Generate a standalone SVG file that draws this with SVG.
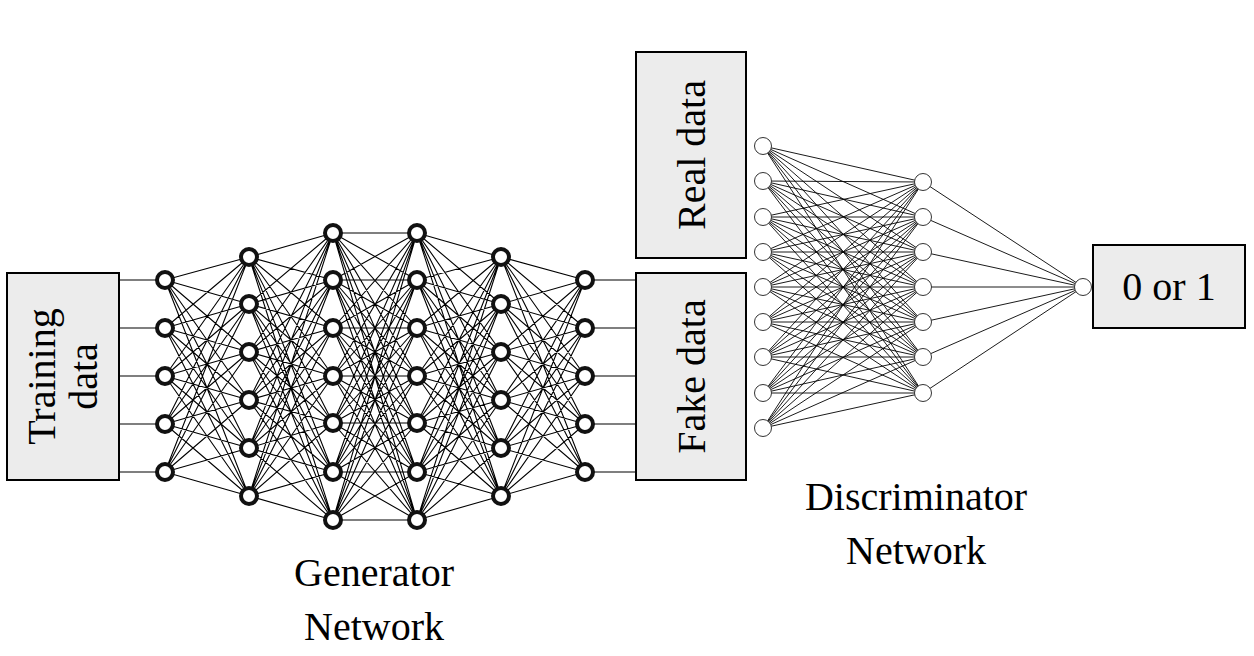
<svg xmlns="http://www.w3.org/2000/svg" width="1254" height="656" viewBox="0 0 1254 656">
<style>
.box{fill:#ececec;stroke:#000;stroke-width:2}
.t{font-family:"Liberation Serif",serif;font-size:40px;fill:#000}
.g line{stroke:#000;stroke-width:1.2}
.d line{stroke:#000;stroke-width:1}
.gn{fill:#fff;stroke:#111;stroke-width:4}
.dn{fill:#fff;stroke:#333;stroke-width:1}
</style>
<rect width="1254" height="656" fill="#fff"/>
<g id="connectors">
<g class="g" id="gen-lines"></g>
<g class="d" id="disc-lines"></g>
</g>
<path id="all-lines" fill="none" stroke="#000" stroke-width="1.1" d="
M119 280H165M119 328H165M119 376H165M119 424H165M119 472H165
M585 280H636M585 328H636M585 376H636M585 424H636M585 472H636
M165 280L249 257M165 280L249 304M165 280L249 352M165 280L249 400M165 280L249 448M165 280L249 496
M165 328L249 257M165 328L249 304M165 328L249 352M165 328L249 400M165 328L249 448M165 328L249 496
M165 376L249 257M165 376L249 304M165 376L249 352M165 376L249 400M165 376L249 448M165 376L249 496
M165 424L249 257M165 424L249 304M165 424L249 352M165 424L249 400M165 424L249 448M165 424L249 496
M165 472L249 257M165 472L249 304M165 472L249 352M165 472L249 400M165 472L249 448M165 472L249 496
M585 280L501 257M585 280L501 304M585 280L501 352M585 280L501 400M585 280L501 448M585 280L501 496
M585 328L501 257M585 328L501 304M585 328L501 352M585 328L501 400M585 328L501 448M585 328L501 496
M585 376L501 257M585 376L501 304M585 376L501 352M585 376L501 400M585 376L501 448M585 376L501 496
M585 424L501 257M585 424L501 304M585 424L501 352M585 424L501 400M585 424L501 448M585 424L501 496
M585 472L501 257M585 472L501 304M585 472L501 352M585 472L501 400M585 472L501 448M585 472L501 496
M249 257L333 233M249 257L333 280M249 257L333 328M249 257L333 376M249 257L333 423M249 257L333 472M249 257L333 520
M249 304L333 233M249 304L333 280M249 304L333 328M249 304L333 376M249 304L333 423M249 304L333 472M249 304L333 520
M249 352L333 233M249 352L333 280M249 352L333 328M249 352L333 376M249 352L333 423M249 352L333 472M249 352L333 520
M249 400L333 233M249 400L333 280M249 400L333 328M249 400L333 376M249 400L333 423M249 400L333 472M249 400L333 520
M249 448L333 233M249 448L333 280M249 448L333 328M249 448L333 376M249 448L333 423M249 448L333 472M249 448L333 520
M249 496L333 233M249 496L333 280M249 496L333 328M249 496L333 376M249 496L333 423M249 496L333 472M249 496L333 520
M501 257L417 233M501 257L417 280M501 257L417 328M501 257L417 376M501 257L417 423M501 257L417 472M501 257L417 520
M501 304L417 233M501 304L417 280M501 304L417 328M501 304L417 376M501 304L417 423M501 304L417 472M501 304L417 520
M501 352L417 233M501 352L417 280M501 352L417 328M501 352L417 376M501 352L417 423M501 352L417 472M501 352L417 520
M501 400L417 233M501 400L417 280M501 400L417 328M501 400L417 376M501 400L417 423M501 400L417 472M501 400L417 520
M501 448L417 233M501 448L417 280M501 448L417 328M501 448L417 376M501 448L417 423M501 448L417 472M501 448L417 520
M501 496L417 233M501 496L417 280M501 496L417 328M501 496L417 376M501 496L417 423M501 496L417 472M501 496L417 520
M333 233L417 233M333 233L417 280M333 233L417 328M333 233L417 376M333 233L417 423M333 233L417 472M333 233L417 520
M333 280L417 233M333 280L417 280M333 280L417 328M333 280L417 376M333 280L417 423M333 280L417 472M333 280L417 520
M333 328L417 233M333 328L417 280M333 328L417 328M333 328L417 376M333 328L417 423M333 328L417 472M333 328L417 520
M333 376L417 233M333 376L417 280M333 376L417 328M333 376L417 376M333 376L417 423M333 376L417 472M333 376L417 520
M333 423L417 233M333 423L417 280M333 423L417 328M333 423L417 376M333 423L417 423M333 423L417 472M333 423L417 520
M333 472L417 233M333 472L417 280M333 472L417 328M333 472L417 376M333 472L417 423M333 472L417 472M333 472L417 520
M333 520L417 233M333 520L417 280M333 520L417 328M333 520L417 376M333 520L417 423M333 520L417 472M333 520L417 520"/>
<path id="disc-all" fill="none" stroke="#000" stroke-width="0.9" d="
M763 146L923 182M763 146L923 217M763 146L923 252M763 146L923 287M763 146L923 322M763 146L923 357M763 146L923 393
M763 181L923 182M763 181L923 217M763 181L923 252M763 181L923 287M763 181L923 322M763 181L923 357M763 181L923 393
M763 217L923 182M763 217L923 217M763 217L923 252M763 217L923 287M763 217L923 322M763 217L923 357M763 217L923 393
M763 252L923 182M763 252L923 217M763 252L923 252M763 252L923 287M763 252L923 322M763 252L923 357M763 252L923 393
M763 287L923 182M763 287L923 217M763 287L923 252M763 287L923 287M763 287L923 322M763 287L923 357M763 287L923 393
M763 322L923 182M763 322L923 217M763 322L923 252M763 322L923 287M763 322L923 322M763 322L923 357M763 322L923 393
M763 357L923 182M763 357L923 217M763 357L923 252M763 357L923 287M763 357L923 322M763 357L923 357M763 357L923 393
M763 393L923 182M763 393L923 217M763 393L923 252M763 393L923 287M763 393L923 322M763 393L923 357M763 393L923 393
M763 428L923 182M763 428L923 217M763 428L923 252M763 428L923 287M763 428L923 322M763 428L923 357M763 428L923 393
M923 182L1083 287M923 217L1083 287M923 252L1083 287M923 287L1083 287M923 322L1083 287M923 357L1083 287M923 393L1083 287"/>

<g id="training-data"><rect class="box" x="7" y="273" width="112" height="207"/>
<text class="t" text-anchor="middle" transform="translate(63 376.5) rotate(-90)"><tspan x="0" y="-8">Training</tspan><tspan x="0" y="34">data</tspan></text></g>
<g id="fake-data"><rect class="box" x="636" y="273" width="110" height="207"/>
<text class="t" text-anchor="middle" transform="translate(705 376.5) rotate(-90)">Fake data</text></g>
<g id="real-data"><rect class="box" x="636" y="52" width="110" height="206"/>
<text class="t" text-anchor="middle" transform="translate(705 155) rotate(-90)">Real data</text></g>
<g id="output"><rect class="box" x="1093" y="245" width="152" height="83"/>
<text class="t" x="1169" y="300" text-anchor="middle">0 or 1</text></g>

<g id="generator-nodes">
<circle class="gn" cx="165" cy="280" r="8"/><circle class="gn" cx="165" cy="328" r="8"/><circle class="gn" cx="165" cy="376" r="8"/><circle class="gn" cx="165" cy="424" r="8"/><circle class="gn" cx="165" cy="472" r="8"/>
<circle class="gn" cx="585" cy="280" r="8"/><circle class="gn" cx="585" cy="328" r="8"/><circle class="gn" cx="585" cy="376" r="8"/><circle class="gn" cx="585" cy="424" r="8"/><circle class="gn" cx="585" cy="472" r="8"/>
<circle class="gn" cx="249" cy="257" r="8"/><circle class="gn" cx="249" cy="304" r="8"/><circle class="gn" cx="249" cy="352" r="8"/><circle class="gn" cx="249" cy="400" r="8"/><circle class="gn" cx="249" cy="448" r="8"/><circle class="gn" cx="249" cy="496" r="8"/>
<circle class="gn" cx="501" cy="257" r="8"/><circle class="gn" cx="501" cy="304" r="8"/><circle class="gn" cx="501" cy="352" r="8"/><circle class="gn" cx="501" cy="400" r="8"/><circle class="gn" cx="501" cy="448" r="8"/><circle class="gn" cx="501" cy="496" r="8"/>
<circle class="gn" cx="333" cy="233" r="8"/><circle class="gn" cx="333" cy="280" r="8"/><circle class="gn" cx="333" cy="328" r="8"/><circle class="gn" cx="333" cy="376" r="8"/><circle class="gn" cx="333" cy="423" r="8"/><circle class="gn" cx="333" cy="472" r="8"/><circle class="gn" cx="333" cy="520" r="8"/>
<circle class="gn" cx="417" cy="233" r="8"/><circle class="gn" cx="417" cy="280" r="8"/><circle class="gn" cx="417" cy="328" r="8"/><circle class="gn" cx="417" cy="376" r="8"/><circle class="gn" cx="417" cy="423" r="8"/><circle class="gn" cx="417" cy="472" r="8"/><circle class="gn" cx="417" cy="520" r="8"/>
</g>
<g id="discriminator-nodes">
<circle class="dn" cx="763" cy="146" r="8.5"/><circle class="dn" cx="763" cy="181" r="8.5"/><circle class="dn" cx="763" cy="217" r="8.5"/><circle class="dn" cx="763" cy="252" r="8.5"/><circle class="dn" cx="763" cy="287" r="8.5"/><circle class="dn" cx="763" cy="322" r="8.5"/><circle class="dn" cx="763" cy="357" r="8.5"/><circle class="dn" cx="763" cy="393" r="8.5"/><circle class="dn" cx="763" cy="428" r="8.5"/>
<circle class="dn" cx="923" cy="182" r="8.5"/><circle class="dn" cx="923" cy="217" r="8.5"/><circle class="dn" cx="923" cy="252" r="8.5"/><circle class="dn" cx="923" cy="287" r="8.5"/><circle class="dn" cx="923" cy="322" r="8.5"/><circle class="dn" cx="923" cy="357" r="8.5"/><circle class="dn" cx="923" cy="393" r="8.5"/>
<circle class="dn" cx="1083" cy="287" r="8.5"/>
</g>
<g id="labels">
<text class="t" x="374" y="586" text-anchor="middle">Generator</text>
<text class="t" x="374" y="640" text-anchor="middle">Network</text>
<text class="t" x="916" y="510" text-anchor="middle">Discriminator</text>
<text class="t" x="916" y="564" text-anchor="middle">Network</text>
</g>
</svg>
